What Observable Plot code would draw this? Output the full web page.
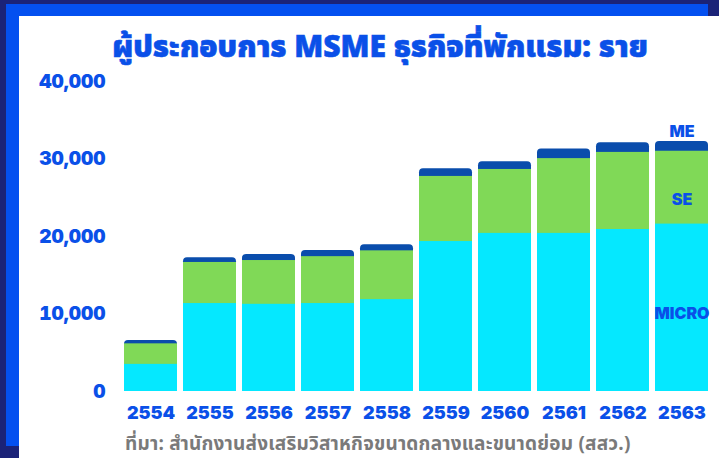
<!DOCTYPE html>
<html>
<head>
<meta charset="utf-8">
<script src="https://cdn.jsdelivr.net/npm/d3@7"></script>
<script src="https://cdn.jsdelivr.net/npm/@observablehq/plot@0.6"></script>
<style>
  html, body { margin: 0; padding: 0; }
  body { width: 719px; height: 458px; overflow: hidden; background: #1b2378; position: relative; font-family: "Noto Sans Thai", "Noto Sans", sans-serif; }
  #blueframe { position: absolute; left: 6px; top: 4px; width: 702px; height: 442px; background: #0450f0; }
  #panel { position: absolute; left: 19px; top: 16px; width: 700px; height: 442px; background: #ffffff; }
  #title { position: absolute; left: 0; top: 25px; width: 760px; text-align: center; color: #0a50e8; font-size: 30px; font-weight: 900; white-space: nowrap; -webkit-text-stroke: 0.6px #0a50e8; }
  #caption { position: absolute; left: 125px; top: 430px; color: #7a7a7a; font-size: 19px; font-weight: 700; letter-spacing: 0.2px; white-space: nowrap; }
  #chart { position: absolute; left: 0; top: 0; }
</style>
</head>
<body>
<div id="blueframe"></div>
<div id="panel"></div>
<div id="title">ผู้ประกอบการ MSME ธุรกิจที่พักแรม: ราย</div>
<div id="chart"></div>
<div id="caption">ที่มา: สำนักงานส่งเสริมวิสาหกิจขนาดกลางและขนาดย่อม (สสว.)</div>
<script>
const years = ["2554","2555","2556","2557","2558","2559","2560","2561","2562","2563"];
const micro = [3500, 11350, 11250, 11350, 11850, 19350, 20400, 20400, 20900, 21600];
const se    = [2650, 5300, 5650, 6050, 6300, 8400, 8250, 9650, 9950, 9400];
const me    = [420, 600, 780, 780, 780, 1000, 1000, 1250, 1250, 1250];
const yTicks = [0, 10000, 20000, 30000, 40000];
const seriesNames = ["ME", "SE", "MICRO"];

const rows = years.map((y, i) => ({
  year: y,
  micro: micro[i],
  microSe: micro[i] + se[i],
  total: micro[i] + se[i] + me[i]
}));
const last = rows[rows.length - 1];

const blue = "#0a50e8";
const labelStyle = { fill: blue, fontSize: 16, fontWeight: 900, frameAnchor: "middle" };
const chart = Plot.plot({
  width: 719,
  height: 458,
  marginLeft: 119,
  marginRight: 7,
  marginTop: 81,
  marginBottom: 67,
  style: { background: "transparent", fontFamily: "Inter, 'Noto Sans', sans-serif" },
  x: { domain: years, paddingInner: 0.107, paddingOuter: 0.0535, label: null },
  y: { domain: [0, 40000], label: null },
  marks: [
    Plot.axisY({ ticks: yTicks, tickFormat: d3.format(","), tickSize: 0, tickPadding: 14, fill: blue, fontSize: 19, fontWeight: 900, label: null }),
    Plot.axisX({ tickSize: 0, tickPadding: 15, fill: blue, fontSize: 18, fontWeight: 900, label: null }),
    Plot.barY(rows, { x: "year", y1: 0, y2: "total", fill: "#0a4dac", rx: 4 }),
    Plot.barY(rows, { x: "year", y1: 0, y2: "microSe", fill: "#80d957" }),
    Plot.barY(rows, { x: "year", y1: 0, y2: "micro", fill: "#05e8ff" }),
    Plot.text([last], { x: "year", y: "total", text: () => seriesNames[0], dy: -10, ...labelStyle }),
    Plot.text([last], { x: "year", y: (d) => (d.micro + d.microSe) / 2, text: () => seriesNames[1], dy: 12, ...labelStyle }),
    Plot.text([last], { x: "year", y: (d) => d.micro / 2, text: () => seriesNames[2], dy: 6, ...labelStyle })
  ]
});
document.getElementById("chart").appendChild(chart);
</script>
</body>
</html>
